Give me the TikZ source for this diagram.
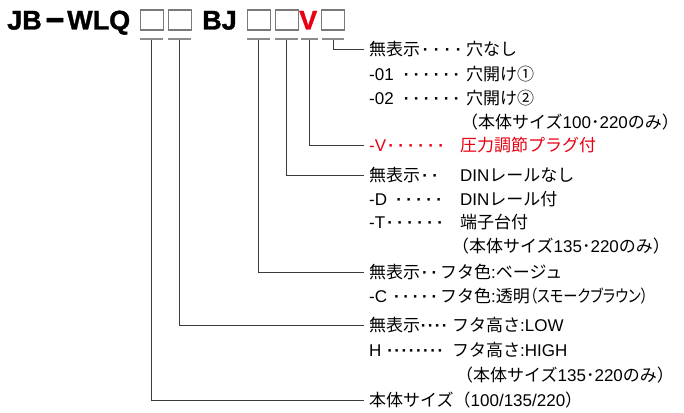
\documentclass[tikz,border=0pt]{standalone}
\usepackage{fontspec}
\setmainfont{Noto Sans CJK JP}
\newfontfamily\ttlfont{Liberation Sans Bold}[FakeBold=1.2]
\newfontfamily\lat{Liberation Sans}
\newfontfamily\pfont{Noto Sans CJK JP}[RawFeature=+palt]
\definecolor{redv}{HTML}{E60012}
\definecolor{linec}{HTML}{3C3C3C}
\definecolor{boxc}{HTML}{7A7A7A}
\definecolor{ulc}{HTML}{8C8C8C}
\newcommand\pdn[2]{\foreach \i in {1,...,#1}{\makebox[#2][c]{\lat\bfseries ·}}}
\newcommand\mdt{･}
\begin{document}
\begin{tikzpicture}[x=1pt,y=-1pt,
  ttl/.style={anchor=base west, inner sep=0pt, font=\ttlfont\fontsize{27}{31}\selectfont},
  phbox/.style={draw=boxc, line width=1.3pt, minimum width=23pt, minimum height=20pt, inner sep=0pt, anchor=north west},
  uline/.style={fill=ulc, inner sep=0pt, minimum height=2pt},
  txt/.style={anchor=west, inner sep=0pt, text height=12pt, text depth=0pt, font=\fontsize{17}{20}\selectfont},
  conn/.style={draw=linec, line width=1pt, shorten >=5pt}]
\useasboundingbox (0,0) rectangle (684,412);
% title
\node[ttl] (tJB) at (7,29.5) {JB};
\node[inner sep=0pt, font=\ttlfont\fontsize{27}{31}\selectfont] (tdash) at (55,25) {\scalebox{1.2}[1.3]{−}};
\node[ttl] (tWLQ) at (67,29.5) {WLQ};
\node[phbox] (b1) at (140,9.5) {};
\node[phbox] (b2) at (168,9.5) {};
\node[ttl] (tBJ) at (202,29.5) {BJ};
\node[phbox] (b3) at (247,9.5) {};
\node[phbox] (b4) at (275,9.5) {};
\node[ttl, text=redv] (tV) at (299,29.5) {V};
\node[phbox] (b5) at (321,9.5) {};
% underlines
\node[uline, minimum width=23pt] (u1) at (151.5,39) {};
\node[uline, minimum width=23pt] (u2) at (179.5,39) {};
\node[uline, minimum width=23pt] (u3) at (258.5,39) {};
\node[uline, minimum width=23pt] (u4) at (286.5,39) {};
\node[uline, minimum width=17pt] (u5) at (309.5,39) {};
\node[uline, minimum width=22pt] (u6) at (333,39) {};
% rows
\node[txt] (l1) at (369,50) {無表示\pdn{4}{11pt}};
\node[txt] (r1) at (466,50) {穴なし};
\node[txt] (l2) at (369,74) {{\lat -01}\hspace{8pt}\pdn{6}{10pt}};
\node[txt] (r2) at (466,74) {穴開け①};
\node[txt] (l3) at (369,98) {{\lat -02}\hspace{8pt}\pdn{6}{10pt}};
\node[txt] (r3) at (466,98) {穴開け②};
\node[txt] (r4) at (461,122) {（本体サイズ{\lat 100}\mdt{\lat 220}のみ）};
\node[txt, text=redv] (l5) at (369,145) {{\lat -V}\pdn{6}{10pt}};
\node[txt, text=redv] (r5) at (460,145) {圧力調節プラグ付};
\node[txt] (l6) at (369,175) {無表示\pdn{2}{10pt}};
\node[txt] (r6) at (460,175) {{\lat DIN}レールなし};
\node[txt] (l7) at (369,199) {{\lat -D}\hspace{7pt}\pdn{5}{10pt}};
\node[txt] (r7) at (460,199) {{\lat DIN}レール付};
\node[txt] (l8) at (369,222) {{\lat -T}\pdn{6}{10pt}};
\node[txt] (r8) at (460,222) {端子台付};
\node[txt] (r9) at (452,246) {（本体サイズ{\lat 135}\mdt{\lat 220}のみ）};
\node[txt] (l10) at (369,272) {無表示\pdn{2}{9.5pt}};
\node[txt] (r10) at (440,272) {フタ色{\lat :}ベージュ};
\node[txt] (l11) at (369,296) {{\lat -C}\hspace{5pt}\pdn{5}{9.4pt}};
\node[txt] (r11) at (440,296) {フタ色{\lat :}透明\scalebox{0.84}[1]{\pfont （スモークブラウン）}};
\node[txt] (l12) at (369,325) {無表示\pdn{4}{7pt}};
\node[txt] (r12) at (452,325) {フタ高さ{\lat :LOW}};
\node[txt] (l13) at (369,350) {{\lat H}\hspace{5pt}\pdn{8}{7.2pt}};
\node[txt] (r13) at (452,350) {フタ高さ{\lat :HIGH}};
\node[txt] (r14) at (456,375) {（本体サイズ{\lat 135}\mdt{\lat 220}のみ）};
\node[txt] (l15) at (369,400) {本体サイズ（{\lat 100/135/220}）};
% connectors
\draw[conn] (u6.south) |- (l1.west);
\draw[conn] (u5.south) |- (l5.west);
\draw[conn] (u4.south) |- (l6.west);
\draw[conn] (u3.south) |- (l10.west);
\draw[conn] (u2.south) |- (l12.west);
\draw[conn] (u1.south) |- (l15.west);
\end{tikzpicture}
\end{document}
